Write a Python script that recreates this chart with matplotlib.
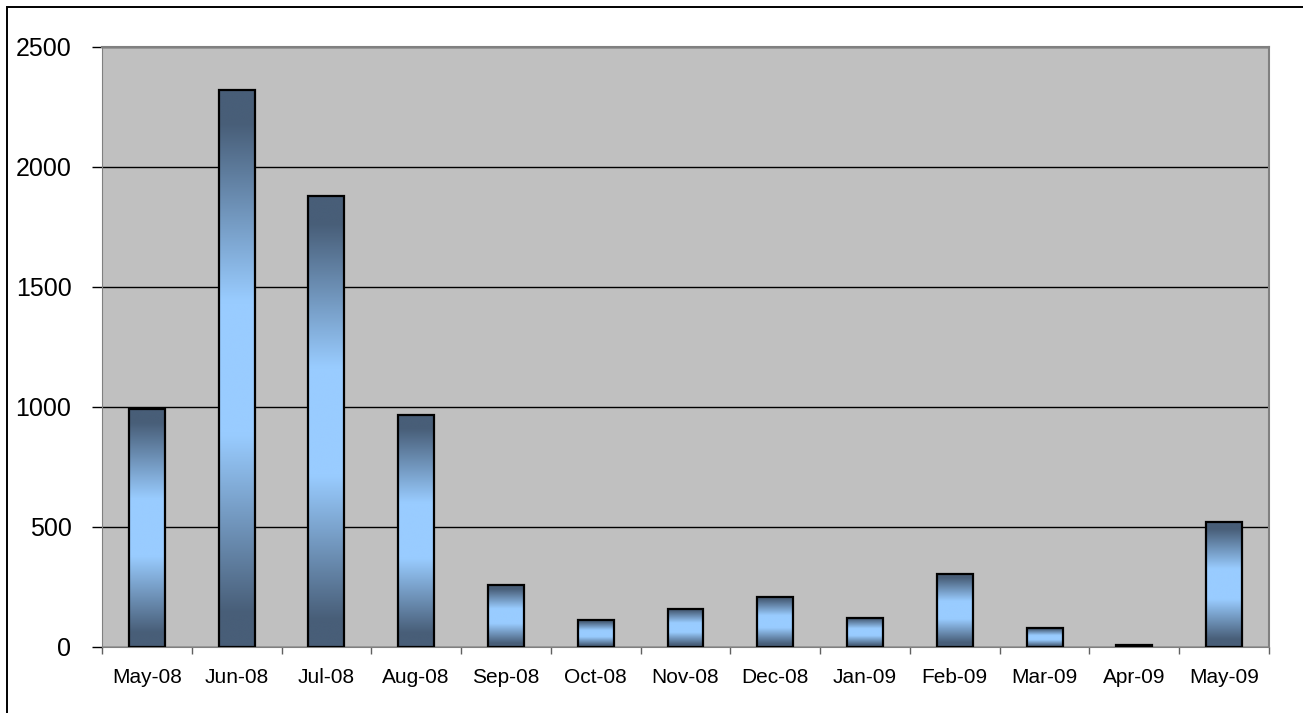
import numpy as np
import matplotlib as mpl
import matplotlib.pyplot as plt
from matplotlib.colors import LinearSegmentedColormap
from matplotlib.patches import Rectangle

plt.rcParams['font.family'] = ['Liberation Sans', 'DejaVu Sans']

# data
months = ['May-08', 'Jun-08', 'Jul-08', 'Aug-08', 'Sep-08', 'Oct-08', 'Nov-08',
          'Dec-08', 'Jan-09', 'Feb-09', 'Mar-09', 'Apr-09', 'May-09']
values = [992, 2321, 1879, 967, 258, 112, 160, 210, 121, 305, 79, 8, 522]

W, H = 1303, 713
fig = plt.figure(figsize=(W / 100, H / 100), dpi=100)

# outer chart border (only top and left visible in the original)
fig.patches.append(Rectangle((7 / W, -0.05), 1.1, 1 - 6.5 / H + 0.05,
                             transform=fig.transFigure, fill=False,
                             edgecolor='black', lw=1.4, zorder=0))

ax = fig.add_axes([102 / W, (H - 647) / H, 1167 / W, 600 / H])
ax.set_facecolor('#C0C0C0')

dark = '#485E78'
light = '#99CCFF'
grad = LinearSegmentedColormap.from_list(
    'bar', [(0, dark), (0.06, dark), (0.38, light), (0.62, light), (0.94, dark), (1, dark)])
g = np.linspace(0, 1, 256).reshape(-1, 1)

bw = 0.4
x = np.arange(len(months))
for xi, v in zip(x, values):
    ax.imshow(g, cmap=grad, aspect='auto', interpolation='bicubic',
              extent=[xi - bw / 2, xi + bw / 2, 0, v], origin='lower', zorder=3)
    ax.add_patch(Rectangle((xi - bw / 2, 0), bw, v, fill=False,
                           edgecolor='black', lw=1.6, zorder=4))

ax.set_xlim(-0.5, len(months) - 0.5)
ax.set_ylim(0, 2500)
ax.set_yticks(np.arange(0, 2501, 500))
ax.yaxis.grid(True, color='black', lw=1)
ax.set_axisbelow(True)

ax.set_xticks(x)
ax.set_xticklabels(months, fontsize=15)
ax.set_xticks(np.arange(-0.5, len(months), 1), minor=True)
ax.tick_params(axis='x', which='major', length=0, pad=15)
ax.tick_params(axis='x', which='minor', length=5, width=1, color='#606060')
ax.tick_params(axis='y', length=7, width=1, color='black', labelsize=18, pad=15)

for s in ['top', 'right']:
    ax.spines[s].set_color('#808080')
    ax.spines[s].set_linewidth(1.5)
ax.spines['left'].set_color('#808080')
ax.spines['bottom'].set_color('#808080')

fig.savefig('out.png', dpi=100)
